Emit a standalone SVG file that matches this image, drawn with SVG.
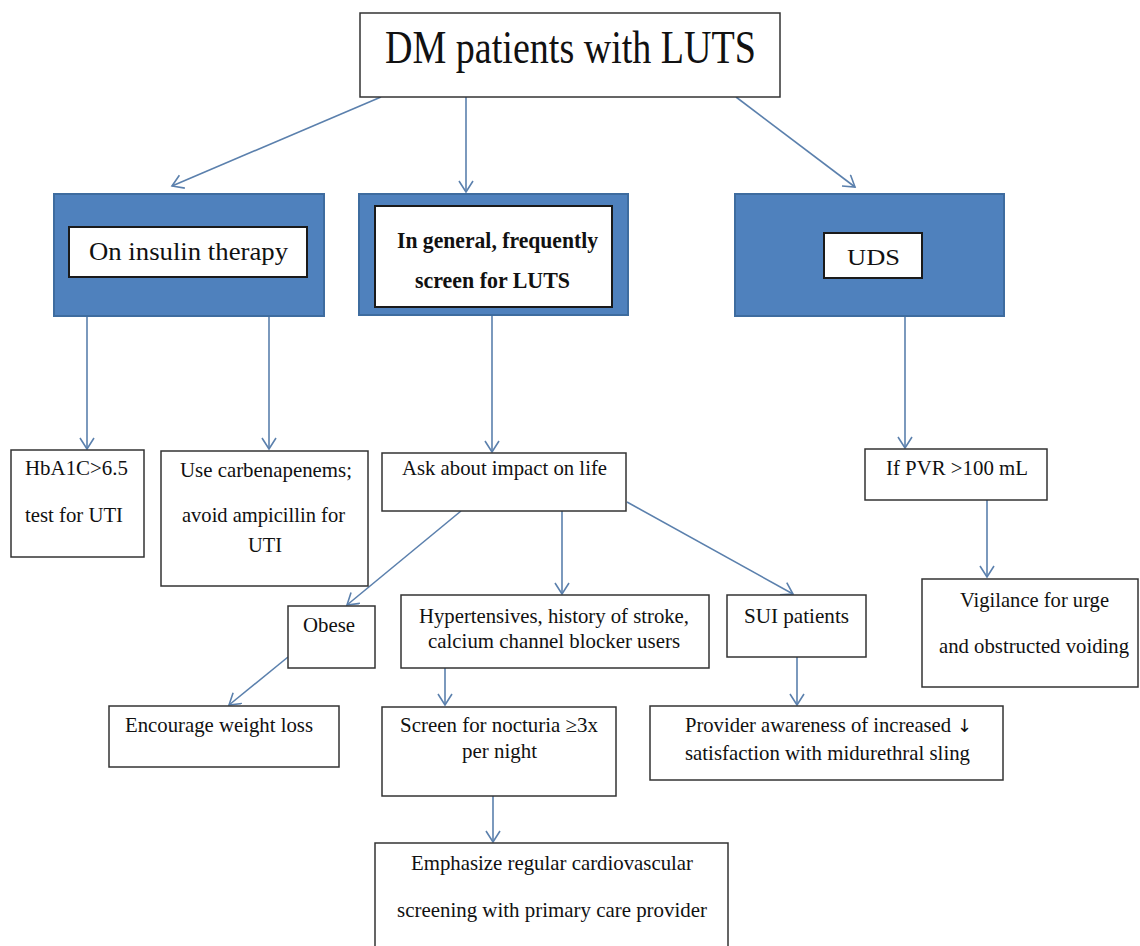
<svg xmlns="http://www.w3.org/2000/svg" width="1140" height="946" viewBox="0 0 1140 946">
<style>
.box{fill:#fff;stroke:#333;stroke-width:1.5}
.blue{fill:#4f81bd;stroke:#3e6c9f;stroke-width:2}
.inner{fill:#fff;stroke:#1a1a1a;stroke-width:2}
text{font-family:"Liberation Serif","Times New Roman",serif;fill:#111}
.b{font-weight:bold}
.c{stroke:#5b80ad;stroke-width:1.6;fill:none}
</style>
<defs>
<marker id="arr" markerUnits="userSpaceOnUse" markerWidth="15" markerHeight="16" refX="12" refY="7.5" orient="auto" viewBox="0 0 15 16">
<path d="M1,0.5 L12,7.5 L1,14.5" fill="none" stroke="#5b80ad" stroke-width="1.6"/>
</marker>
</defs>
<rect width="1140" height="946" fill="#fff"/>

<g id="connectors">
<line class="c" x1="381" y1="97" x2="172" y2="186" marker-end="url(#arr)"/>
<line class="c" x1="466" y1="97" x2="466" y2="192" marker-end="url(#arr)"/>
<line class="c" x1="736" y1="97" x2="855" y2="187" marker-end="url(#arr)"/>
<line class="c" x1="87" y1="316" x2="87" y2="449" marker-end="url(#arr)"/>
<line class="c" x1="269" y1="316" x2="269" y2="449" marker-end="url(#arr)"/>
<line class="c" x1="492" y1="316" x2="492" y2="452" marker-end="url(#arr)"/>
<line class="c" x1="905" y1="316" x2="905" y2="448" marker-end="url(#arr)"/>
<line class="c" x1="987" y1="500" x2="987" y2="577" marker-end="url(#arr)"/>
<line class="c" x1="461" y1="511" x2="347" y2="605" marker-end="url(#arr)"/>
<line class="c" x1="562" y1="511" x2="562" y2="594" marker-end="url(#arr)"/>
<line class="c" x1="627" y1="502" x2="793" y2="594" marker-end="url(#arr)"/>
<line class="c" x1="288" y1="657" x2="229" y2="705" marker-end="url(#arr)"/>
<line class="c" x1="445" y1="668" x2="445" y2="705" marker-end="url(#arr)"/>
<line class="c" x1="797" y1="657" x2="797" y2="705" marker-end="url(#arr)"/>
<line class="c" x1="493" y1="796" x2="493" y2="842" marker-end="url(#arr)"/>
</g>

<g id="n-top">
<rect class="box" x="360" y="13" width="420" height="84"/>
<text x="385" y="63" font-size="47" textLength="371" lengthAdjust="spacingAndGlyphs">DM patients with LUTS</text>
</g>

<g id="n-insulin">
<rect class="blue" x="54" y="194" width="270" height="122"/>
<rect class="inner" x="69" y="227" width="238" height="50"/>
<text x="89" y="260" font-size="26" textLength="199" lengthAdjust="spacingAndGlyphs">On insulin therapy</text>
</g>

<g id="n-general">
<rect class="blue" x="359" y="194" width="269" height="121"/>
<rect class="inner" x="375" y="206" width="237" height="101"/>
<text class="b" x="397" y="248" font-size="23" textLength="201" lengthAdjust="spacingAndGlyphs">In general, frequently</text>
<text class="b" x="415" y="288" font-size="23" textLength="155" lengthAdjust="spacingAndGlyphs">screen for LUTS</text>
</g>

<g id="n-uds">
<rect class="blue" x="735" y="194" width="269" height="122"/>
<rect class="inner" x="824" y="233" width="98" height="45"/>
<text x="847" y="265" font-size="23" textLength="53" lengthAdjust="spacingAndGlyphs">UDS</text>
</g>

<g id="n-hba1c">
<rect class="box" x="11" y="450" width="133" height="107"/>
<text x="25" y="475" font-size="21" textLength="103" lengthAdjust="spacingAndGlyphs">HbA1C&gt;6.5</text>
<text x="25" y="522" font-size="21" textLength="98" lengthAdjust="spacingAndGlyphs">test for UTI</text>
</g>

<g id="n-carb">
<rect class="box" x="161" y="451" width="207" height="135"/>
<text x="180" y="477" font-size="21" textLength="172" lengthAdjust="spacingAndGlyphs">Use carbenapenems;</text>
<text x="182" y="522" font-size="21" textLength="163" lengthAdjust="spacingAndGlyphs">avoid ampicillin for</text>
<text x="248" y="552" font-size="21" textLength="34" lengthAdjust="spacingAndGlyphs">UTI</text>
</g>

<g id="n-ask">
<rect class="box" x="382" y="453" width="244" height="58"/>
<text x="402" y="475" font-size="21" textLength="205" lengthAdjust="spacingAndGlyphs">Ask about impact on life</text>
</g>

<g id="n-pvr">
<rect class="box" x="865" y="449" width="182" height="51"/>
<text x="886" y="475" font-size="21" textLength="142" lengthAdjust="spacingAndGlyphs">If PVR &gt;100 mL</text>
</g>

<g id="n-vigilance">
<rect class="box" x="922" y="579" width="216" height="108"/>
<text x="960" y="607" font-size="21" textLength="149" lengthAdjust="spacingAndGlyphs">Vigilance for urge</text>
<text x="939" y="653" font-size="21" textLength="190" lengthAdjust="spacingAndGlyphs">and obstructed voiding</text>
</g>

<g id="n-obese">
<rect class="box" x="288" y="606" width="87" height="62"/>
<text x="303" y="632" font-size="21" textLength="52" lengthAdjust="spacingAndGlyphs">Obese</text>
</g>

<g id="n-hyper">
<rect class="box" x="401" y="595" width="308" height="73"/>
<text x="419" y="623" font-size="21" textLength="270" lengthAdjust="spacingAndGlyphs">Hypertensives, history of stroke,</text>
<text x="428" y="648" font-size="21" textLength="252" lengthAdjust="spacingAndGlyphs">calcium channel blocker users</text>
</g>

<g id="n-sui">
<rect class="box" x="727" y="595" width="139" height="62"/>
<text x="744" y="623" font-size="21" textLength="105" lengthAdjust="spacingAndGlyphs">SUI patients</text>
</g>

<g id="n-weight">
<rect class="box" x="109" y="706" width="230" height="61"/>
<text x="125" y="732" font-size="21" textLength="188" lengthAdjust="spacingAndGlyphs">Encourage weight loss</text>
</g>

<g id="n-nocturia">
<rect class="box" x="382" y="707" width="234" height="89"/>
<text x="400" y="732" font-size="21" textLength="198" lengthAdjust="spacingAndGlyphs">Screen for nocturia ≥3x</text>
<text x="462" y="758" font-size="21" textLength="75" lengthAdjust="spacingAndGlyphs">per night</text>
</g>

<g id="n-provider">
<rect class="box" x="650" y="706" width="353" height="74"/>
<text x="685" y="732" font-size="21" textLength="266" lengthAdjust="spacingAndGlyphs">Provider awareness of increased</text>
<text x="957" y="732" font-size="18" style="font-family:'DejaVu Sans',sans-serif">↓</text>
<text x="685" y="760" font-size="21" textLength="285" lengthAdjust="spacingAndGlyphs">satisfaction with midurethral sling</text>
</g>

<g id="n-emphasize">
<rect class="box" x="375" y="843" width="353" height="110"/>
<text x="411" y="870" font-size="21" textLength="282" lengthAdjust="spacingAndGlyphs">Emphasize regular cardiovascular</text>
<text x="397" y="917" font-size="21" textLength="310" lengthAdjust="spacingAndGlyphs">screening with primary care provider</text>
</g>
</svg>
